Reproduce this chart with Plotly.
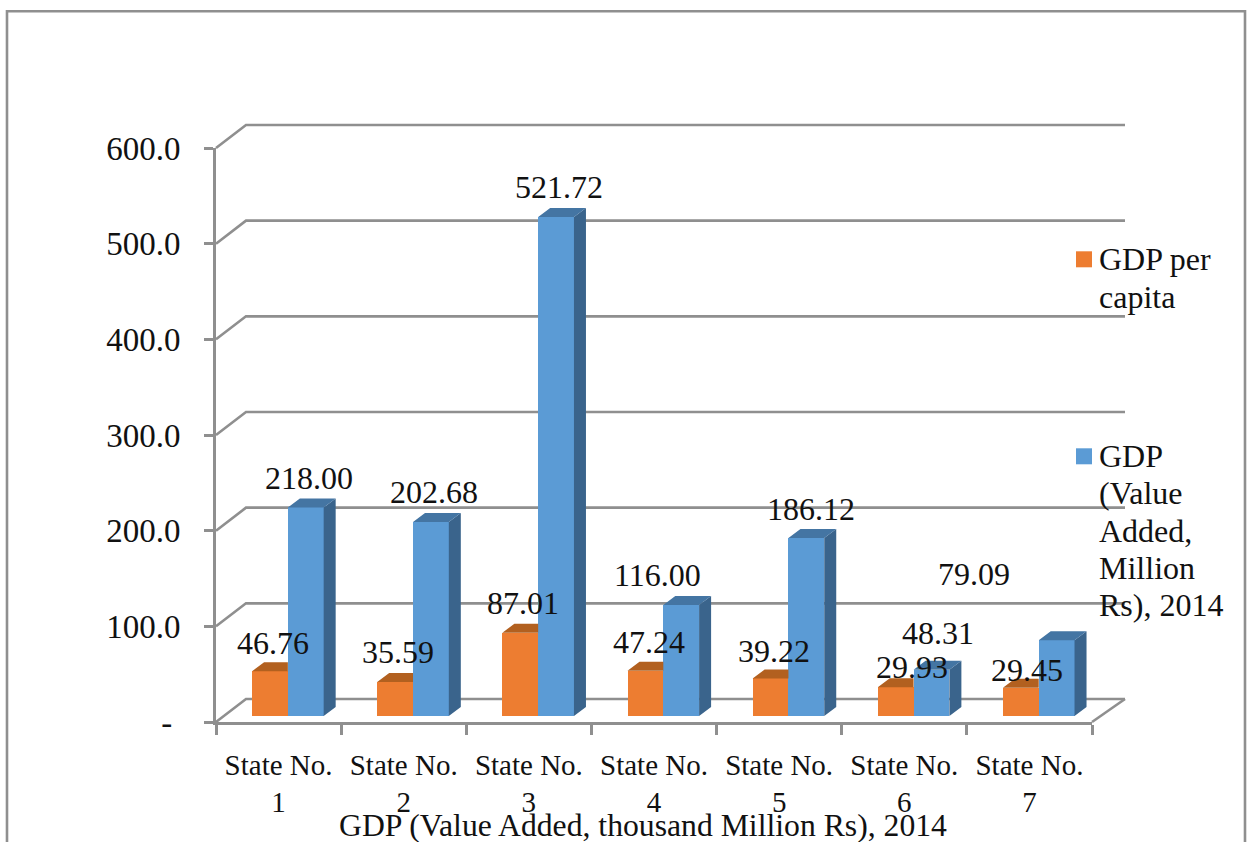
import plotly.graph_objects as go

# Chart values
states = ["State No.<br>1", "State No.<br>2", "State No.<br>3", "State No.<br>4",
          "State No.<br>5", "State No.<br>6", "State No.<br>7"]
gdp_per_capita = [46.76, 35.59, 87.01, 47.24, 39.22, 29.93, 29.45]
gdp_value_added = [218.00, 202.68, 521.72, 116.00, 186.12, 48.31, 79.09]
y_ticks = [0, 100, 200, 300, 400, 500, 600]
y_tick_labels = ["-\u00a0", "100.0", "200.0", "300.0", "400.0", "500.0", "600.0"]
legend_per_capita = ["GDP per", "capita"]
legend_value_added = ["GDP", "(Value", "Added,", "Million", "Rs), 2014"]

# Label nudges in pixels, relative to the top centre of each bar
orange_label_dx = [2.7, 3.2, 3.2, 3.2, 3.2, 16.7, 6.2]
orange_label_dy = [28, 29.7, 29.5, 28.5, 27, 20, 17.5]
blue_label_dx = [3.2, 2.7, 3.2, -23.8, 4.2, 6.2, -82.3]
blue_label_dy = [29, 30, 29.6, 29.7, 28.6, 36.5, 66]

# Colours and fonts
GRAY = "#8f8f8f"
ORANGE, ORANGE_TOP = "#ED7D31", "#B2601F"
BLUE, BLUE_TOP, BLUE_SIDE = "#5B9BD5", "#4475A3", "#3A648C"
INK = "#111111"
SERIF = "Liberation Serif"

# Page geometry
WIDTH, HEIGHT = 1252, 842
LEFT, RIGHT, TOP, BOTTOM = 216, 1092, 147.7, 721.7
Y_MAX = 600
PX_PER_CAT = (RIGHT - LEFT) / 7
PX_PER_VAL = (BOTTOM - TOP) / Y_MAX

# Oblique projection used for the floor, back wall and bar faces
wall_dx, wall_end_dx, wall_dy = 30 / PX_PER_CAT, 33 / PX_PER_CAT, 23 / PX_PER_VAL
bar_dx, bar_dy = 12 / PX_PER_CAT, 9 / PX_PER_VAL
bar_base = 6 / PX_PER_VAL
bar_w = 35.8 / PX_PER_CAT
orange_shift = -8.6 / PX_PER_CAT
blue_shift = orange_shift + bar_w


def px(x):
    return (x - LEFT) / (RIGHT - LEFT)


def py(y):
    return (BOTTOM - y) / (BOTTOM - TOP)


def cat_paper(c):
    return (c + 0.5) / 7


def val_paper(v):
    return v / Y_MAX


line = dict(color=GRAY, width=2.6)
shapes = []

# Back wall gridlines with their slanted run-in from the value axis
for v in y_ticks:
    x0, y0 = cat_paper(-0.5), val_paper(v)
    x1, y1 = cat_paper(-0.5 + wall_dx), val_paper(v + wall_dy)
    x2 = cat_paper(6.5 + wall_end_dx)
    shapes.append(dict(type="path", xref="paper", yref="paper", layer="below", line=line,
                       path=f"M {x0} {y0} L {x1} {y1} L {x2} {y1}"))

# Right edge of the floor
shapes.append(dict(type="line", xref="paper", yref="paper", layer="below", line=line,
                   x0=cat_paper(6.5), y0=0, x1=cat_paper(6.5 + wall_end_dx), y1=val_paper(wall_dy)))

# Outer chart frame, open at the bottom of the page
shapes.append(dict(type="path", xref="paper", yref="paper", layer="below", line=line,
                   path=f"M {px(7)} {py(845)} L {px(7)} {py(11)} L {px(1245)} {py(11)} L {px(1245)} {py(845)}"))


def polygons(faces):
    xs, ys = [], []
    for face in faces:
        xs += [p[0] for p in face] + [face[0][0], None]
        ys += [p[1] for p in face] + [face[0][1], None]
    return xs, ys


orange_top_faces, blue_top_faces, blue_side_faces = [], [], []
for i, (a, b) in enumerate(zip(gdp_per_capita, gdp_value_added)):
    l = i + orange_shift - bar_w / 2
    r = l + bar_w
    ta = a + bar_base
    # The orange top stops where the blue front face begins
    orange_top_faces.append([(l, ta), (r, ta), (r, ta + bar_dy), (l + bar_dx, ta + bar_dy)])
    bl = i + blue_shift - bar_w / 2
    br = bl + bar_w
    tb = b + bar_base
    blue_top_faces.append([(bl, tb), (br, tb), (br + bar_dx, tb + bar_dy), (bl + bar_dx, tb + bar_dy)])
    blue_side_faces.append([(br, bar_base), (br, tb), (br + bar_dx, tb + bar_dy), (br + bar_dx, bar_base + bar_dy)])

cats = list(range(len(states)))
fig = go.Figure()

# Front faces
fig.add_bar(x=[c + orange_shift for c in cats], y=gdp_per_capita, base=bar_base, width=bar_w,
            marker=dict(color=ORANGE, line_width=0), showlegend=False, cliponaxis=False,
            name="GDP per capita", hoverinfo="skip")
fig.add_bar(x=[c + blue_shift for c in cats], y=gdp_value_added, base=bar_base, width=bar_w,
            marker=dict(color=BLUE, line_width=0), showlegend=False, cliponaxis=False,
            name="GDP (Value Added, Million Rs), 2014", hoverinfo="skip")

# Top and side faces
for faces, colour in ((orange_top_faces, ORANGE_TOP), (blue_side_faces, BLUE_SIDE), (blue_top_faces, BLUE_TOP)):
    xs, ys = polygons(faces)
    fig.add_scatter(x=xs, y=ys, mode="lines", fill="toself", fillcolor=colour,
                    line=dict(width=0, color=colour), showlegend=False, cliponaxis=False,
                    hoverinfo="skip")

# Value labels
annotations = []
for i, (a, b) in enumerate(zip(gdp_per_capita, gdp_value_added)):
    annotations.append(dict(x=i + orange_shift, y=a + bar_base, text=f"{a:.2f}", showarrow=False,
                            xshift=orange_label_dx[i], yshift=orange_label_dy[i],
                            font=dict(family=SERIF, size=32, color=INK)))
    annotations.append(dict(x=i + blue_shift, y=b + bar_base, text=f"{b:.2f}", showarrow=False,
                            xshift=blue_label_dx[i], yshift=blue_label_dy[i],
                            font=dict(family=SERIF, size=32, color=INK)))

# Bottom title
annotations.append(dict(xref="paper", yref="paper", x=px(642.5), y=py(825), yanchor="middle",
                        text="GDP (Value Added, thousand Million Rs), 2014", showarrow=False,
                        font=dict(family=SERIF, size=31.7, color=INK)))


# Key: a colour swatch beside the first line of a block of closely set text lines
def add_key(lines, colour, first_line_y):
    shapes.append(dict(type="rect", xref="paper", yref="paper", layer="above", fillcolor=colour,
                       line_width=0, x0=px(1076), x1=px(1092),
                       y0=py(first_line_y + 8), y1=py(first_line_y - 8)))
    for n, text in enumerate(lines):
        annotations.append(dict(xref="paper", yref="paper", x=px(1097), y=py(first_line_y + n * 37.2),
                                xanchor="left", yanchor="middle", text=text, showarrow=False,
                                align="left", font=dict(family=SERIF, size=32, color=INK)))


add_key(legend_per_capita, ORANGE, 259)
add_key(legend_value_added, BLUE, 456)

fig.update_layout(
    width=WIDTH, height=HEIGHT, autosize=False,
    margin=dict(l=LEFT, r=WIDTH - RIGHT, t=TOP, b=HEIGHT - BOTTOM, pad=0),
    paper_bgcolor="white", plot_bgcolor="rgba(0,0,0,0)",
    barmode="overlay", bargap=0, showlegend=False,
    shapes=shapes, annotations=annotations,
    xaxis=dict(range=[-0.5, 6.5], tickmode="array", tickvals=cats, ticktext=states,
               ticks="", ticklen=0, ticklabelstandoff=15, showgrid=False, zeroline=False,
               showline=True, linecolor=GRAY, linewidth=2.6,
               tickfont=dict(family=SERIF, size=29, color=INK),
               minor=dict(tickmode="array", tickvals=[c - 0.5 for c in cats] + [6.5],
                          ticks="outside", ticklen=10, tickwidth=2.6, tickcolor=GRAY,
                          showgrid=False)),
    yaxis=dict(range=[0, Y_MAX], tickmode="array", tickvals=y_ticks, ticktext=y_tick_labels,
               ticks="outside", ticklen=9, tickwidth=2.6, tickcolor=GRAY, showgrid=False,
               zeroline=False, showline=True, linecolor=GRAY, linewidth=2.6,
               ticklabelstandoff=17,
               tickfont=dict(family=SERIF, size=33, color=INK)),
)

fig.write_html("out.html", config=dict(displayModeBar=False))
